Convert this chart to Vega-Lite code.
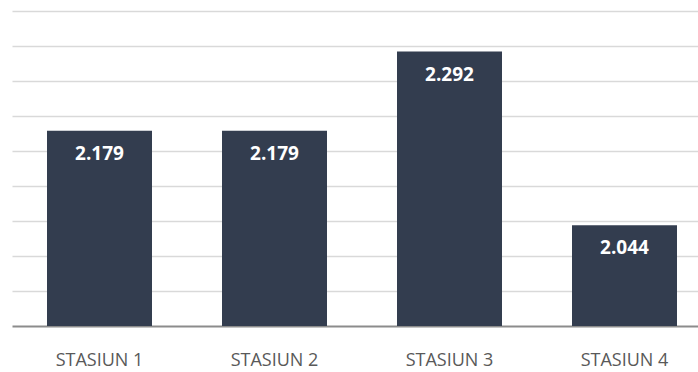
{
  "$schema": "https://vega.github.io/schema/vega-lite/v6.json",
  "autosize": "none",
  "padding": {"left": 12, "top": 11, "right": 0, "bottom": 46},
  "width": 700,
  "height": 315,
  "background": "white",
  "config": {"view": {"stroke": null}},
  "data": {
    "values": [
      {"stasiun": "STASIUN 1", "nilai": 2.179},
      {"stasiun": "STASIUN 2", "nilai": 2.179},
      {"stasiun": "STASIUN 3", "nilai": 2.292},
      {"stasiun": "STASIUN 4", "nilai": 2.044}
    ]
  },
  "encoding": {
    "x": {
      "field": "stasiun",
      "type": "nominal",
      "sort": null,
      "scale": {"paddingInner": 0.4, "paddingOuter": 0.2},
      "axis": {
        "title": null,
        "labelAngle": 0,
        "ticks": false,
        "domain": true,
        "domainColor": "#8c8c8c",
        "domainWidth": 2,
        "labelBaseline": "middle",
        "labelPadding": 34,
        "labelFont": "Open Sans",
        "labelFontSize": 18,
        "labelColor": "#595959"
      }
    },
    "y": {
      "field": "nilai",
      "type": "quantitative",
      "scale": {"domain": [1.9, 2.35], "zero": false, "nice": false},
      "axis": {
        "title": null,
        "labels": false,
        "ticks": false,
        "domain": false,
        "values": [1.95, 2.0, 2.05, 2.1, 2.15, 2.2, 2.25, 2.3, 2.35],
        "gridColor": "#d9d9d9",
        "gridWidth": 1.5
      }
    }
  },
  "layer": [
    {"mark": {"type": "bar", "color": "#333d4f", "clip": true}},
    {
      "mark": {
        "type": "text",
        "color": "white",
        "font": "Open Sans",
        "fontWeight": "bold",
        "fontSize": 19,
        "baseline": "middle",
        "dy": 23
      },
      "encoding": {"text": {"field": "nilai", "type": "quantitative", "format": ".3f"}}
    }
  ]
}
